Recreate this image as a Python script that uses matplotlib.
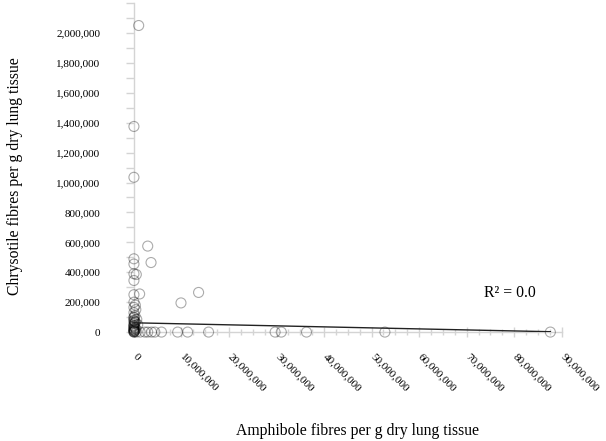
import matplotlib
matplotlib.use('Agg')
import matplotlib.pyplot as plt
import matplotlib.transforms as mtransforms
import numpy as np
from matplotlib.ticker import FuncFormatter, MultipleLocator, FixedLocator

plt.rcParams['font.family'] = ['Liberation Serif', 'DejaVu Serif']

# amphibole (x) and chrysotile (y) fibres per g dry lung tissue
amphibole = [1.0e6, 0, 0, 2.9e6, 3.6e6, 9.9e6, 13.6e6, 1.2e6,
             0, 0, 0, 0.5e6, 0, 0, 0, 0.3e6, 0, 0.4e6, 0, 0.2e6,
             0, 0.6e6, 0, 0.3e6, 0, 0.8e6, 0, 0.2e6, 0, 0.1e6, 0,
             0, 0, 0, 0, 0, 0.1e6, 0.2e6, 0, 0, 0.4e6, 0, 0.1e6, 0,
             0.5e6, 1.3e6, 2.3e6, 2.9e6, 3.7e6, 4.4e6, 5.8e6, 9.2e6,
             11.3e6, 15.7e6, 29.7e6, 31.0e6, 36.3e6, 52.8e6, 87.6e6]
chrysotile = [2.05e6, 1.375e6, 1.035e6, 0.575e6, 0.465e6, 0.195e6, 0.265e6, 0.255e6,
              0.49e6, 0.455e6, 0.39e6, 0.385e6, 0.345e6, 0.25e6, 0.20e6, 0.18e6,
              0.165e6, 0.15e6, 0.13e6, 0.11e6, 0.095e6, 0.085e6, 0.075e6, 0.065e6,
              0.055e6, 0.05e6, 0.04e6, 0.03e6, 0.02e6, 0.01e6, 0.005e6,
              0, 0.012e6, 0.025e6, 0.035e6, 0.045e6, 0.06e6, 0.07e6, 0.08e6,
              0.1e6, 0.02e6, 0.015e6, 0.003e6, 0.001e6,
              0, 0, 0, 0, 0, 0, 0, 0, 0, 0, 0, 0, 0, 0, 0]

y_ticks = [0, 200000, 400000, 600000, 800000, 1000000, 1200000,
           1400000, 1600000, 1800000, 2000000]

# linear trend line
trend_intercept = 62000
trend_slope = -0.00068
r2_text = 'R² = 0.0'

fig = plt.figure(figsize=(6.06, 4.41), dpi=100)
ax = fig.add_axes([0.221, 0.247, 0.706, 0.746])

ax.scatter(amphibole, chrysotile, s=52, facecolors='none',
           edgecolors=(0, 0, 0, 0.33), linewidths=0.8, clip_on=False, zorder=3)

xs = np.array([0, max(amphibole)])
ax.plot(xs, trend_intercept + trend_slope * xs, color='#222222', lw=1.0, zorder=4)

for s in ['top', 'right']:
    ax.spines[s].set_visible(False)
for s in ['left', 'bottom']:
    ax.spines[s].set_color('#d4d4d4')
    ax.spines[s].set_linewidth(1.0)

fmt = FuncFormatter(lambda v, p: '{:,.0f}'.format(v))
ax.xaxis.set_major_locator(MultipleLocator(10e6))
ax.xaxis.set_minor_locator(MultipleLocator(2.5e6))
ax.yaxis.set_major_locator(FixedLocator(y_ticks))
ax.yaxis.set_minor_locator(MultipleLocator(100000))
ax.xaxis.set_major_formatter(fmt)
ax.yaxis.set_major_formatter(fmt)

ax.set_xlim(0, 90e6)
ax.set_ylim(0, 2.2e6)

ax.tick_params(axis='both', which='major', color='#d4d4d4', length=7, width=1.0,
               labelsize=8, labelcolor='black')
ax.tick_params(axis='both', which='minor', color='#d4d4d4', length=4, width=1.0)
ax.tick_params(axis='y', which='major', pad=18)
ax.tick_params(axis='y', which='both', length=6)
ax.tick_params(axis='x', which='both', direction='inout')
ax.tick_params(axis='x', which='major', pad=11)

shift = mtransforms.ScaledTranslation(4 / 100, 0, fig.dpi_scale_trans)
for lbl in ax.get_xticklabels():
    lbl.set_rotation(-45)
    lbl.set_ha('left')
    lbl.set_va('top')
    lbl.set_rotation_mode('anchor')
    lbl.set_transform(lbl.get_transform() + shift)

fig.text(15 / 606, 1 - 176 / 441, 'Chrysotile fibres per g dry lung tissue',
         fontsize=11.3, rotation=90, ha='center', va='center')
fig.text(358 / 606, 1 - 431 / 441, 'Amphibole fibres per g dry lung tissue',
         fontsize=11.3, ha='center', va='center')
ax.text(79e6, 0.26e6, r2_text, fontsize=11.3, ha='center', va='center')

fig.savefig('out.png', dpi=100)
